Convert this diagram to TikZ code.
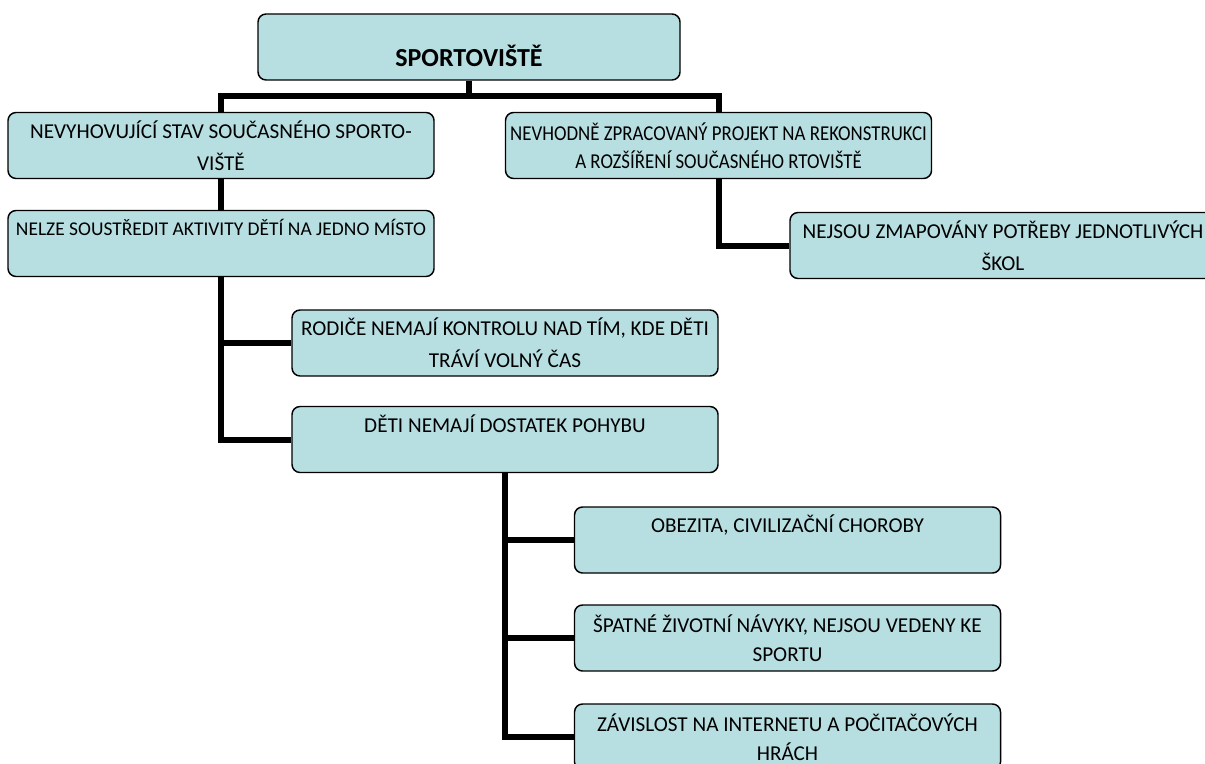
\documentclass[tikz,border=0pt]{standalone}
\usepackage{fontspec}
\setmainfont{Carlito}
\newfontfamily\narrowfont[FakeStretch=0.89]{Carlito}
\definecolor{boxFill}{HTML}{B7DEE1}

\begin{document}
\begin{tikzpicture}[
    x=0.75pt, y=-0.75pt,
    cause/.style = {draw=black, line width=1.1pt, fill=boxFill, rounded corners=6pt,
      minimum width=319.5pt, minimum height=49.5pt, align=center, inner sep=0pt,
      font=\fontsize{15.9}{24}\selectfont},
    narrow/.style = {font=\narrowfont\fontsize{15.9}{21}\selectfont},
    small/.style = {font=\fontsize{14.6}{24}\selectfont},
    tight/.style = {font=\fontsize{15.9}{21.5}\selectfont},
    link/.style = {line width=4.5pt},
  ]
  \useasboundingbox (0,0) rectangle (1205,763);

  \node[cause, minimum width=316.5pt, font=\bfseries\fontsize{19.5}{30}\selectfont] (root) at (469,47) {\mbox{}\\SPORTOVIŠTĚ};

  \node[cause] (nA) at (221,145.5) {NEVYHOVUJÍCÍ STAV SOUČASNÉHO SPORTO-\\VIŠTĚ};
  \node[cause, narrow] (nB) at (718.5,145.5) {NEVHODNĚ ZPRACOVANÝ PROJEKT NA REKONSTRUKCI\\A ROZŠÍŘENÍ SOUČASNÉHO RTOVIŠTĚ};
  \node[cause, small] (nC) at (221,243.5) {NELZE SOUSTŘEDIT AKTIVITY DĚTÍ NA JEDNO MÍSTO\\\mbox{}};
  \node[cause] (nI) at (1003,245.5) {NEJSOU ZMAPOVÁNY POTŘEBY JEDNOTLIVÝCH\\ŠKOL};

  \node[cause] (nD) at (505,343) {RODIČE NEMAJÍ KONTROLU NAD TÍM, KDE DĚTI\\TRÁVÍ VOLNÝ ČAS};
  \node[cause] (nE) at (505,439.5) {DĚTI NEMAJÍ DOSTATEK POHYBU\\\mbox{}};

  \node[cause] (nF) at (787.5,540) {OBEZITA, CIVILIZAČNÍ CHOROBY\\\mbox{}};
  \node[cause, tight] (nG) at (787.5,638) {ŠPATNÉ ŽIVOTNÍ NÁVYKY, NEJSOU VEDENY KE\\SPORTU};
  \node[cause, tight] (nH) at (787.5,737) {ZÁVISLOST NA INTERNETU A POČITAČOVÝCH\\HRÁCH};

  % top bar
  \coordinate (bar) at (469,96);
  \draw[link] (root) -- (bar);
  \draw[link] (nA.north) |- (bar) -| (nB.north);

  \draw[link] (nA) -- (nC);
  \draw[link] (nB.south) |- (nI.west);
  \draw[link] (nC.south) |- (nD.west);
  \draw[link] (nC.south) |- (nE.west);

  \draw[link] (nE.south) |- (nF.west);
  \draw[link] (nE.south) |- (nG.west);
  \draw[link] (nE.south) |- (nH.west);
\end{tikzpicture}
\end{document}
